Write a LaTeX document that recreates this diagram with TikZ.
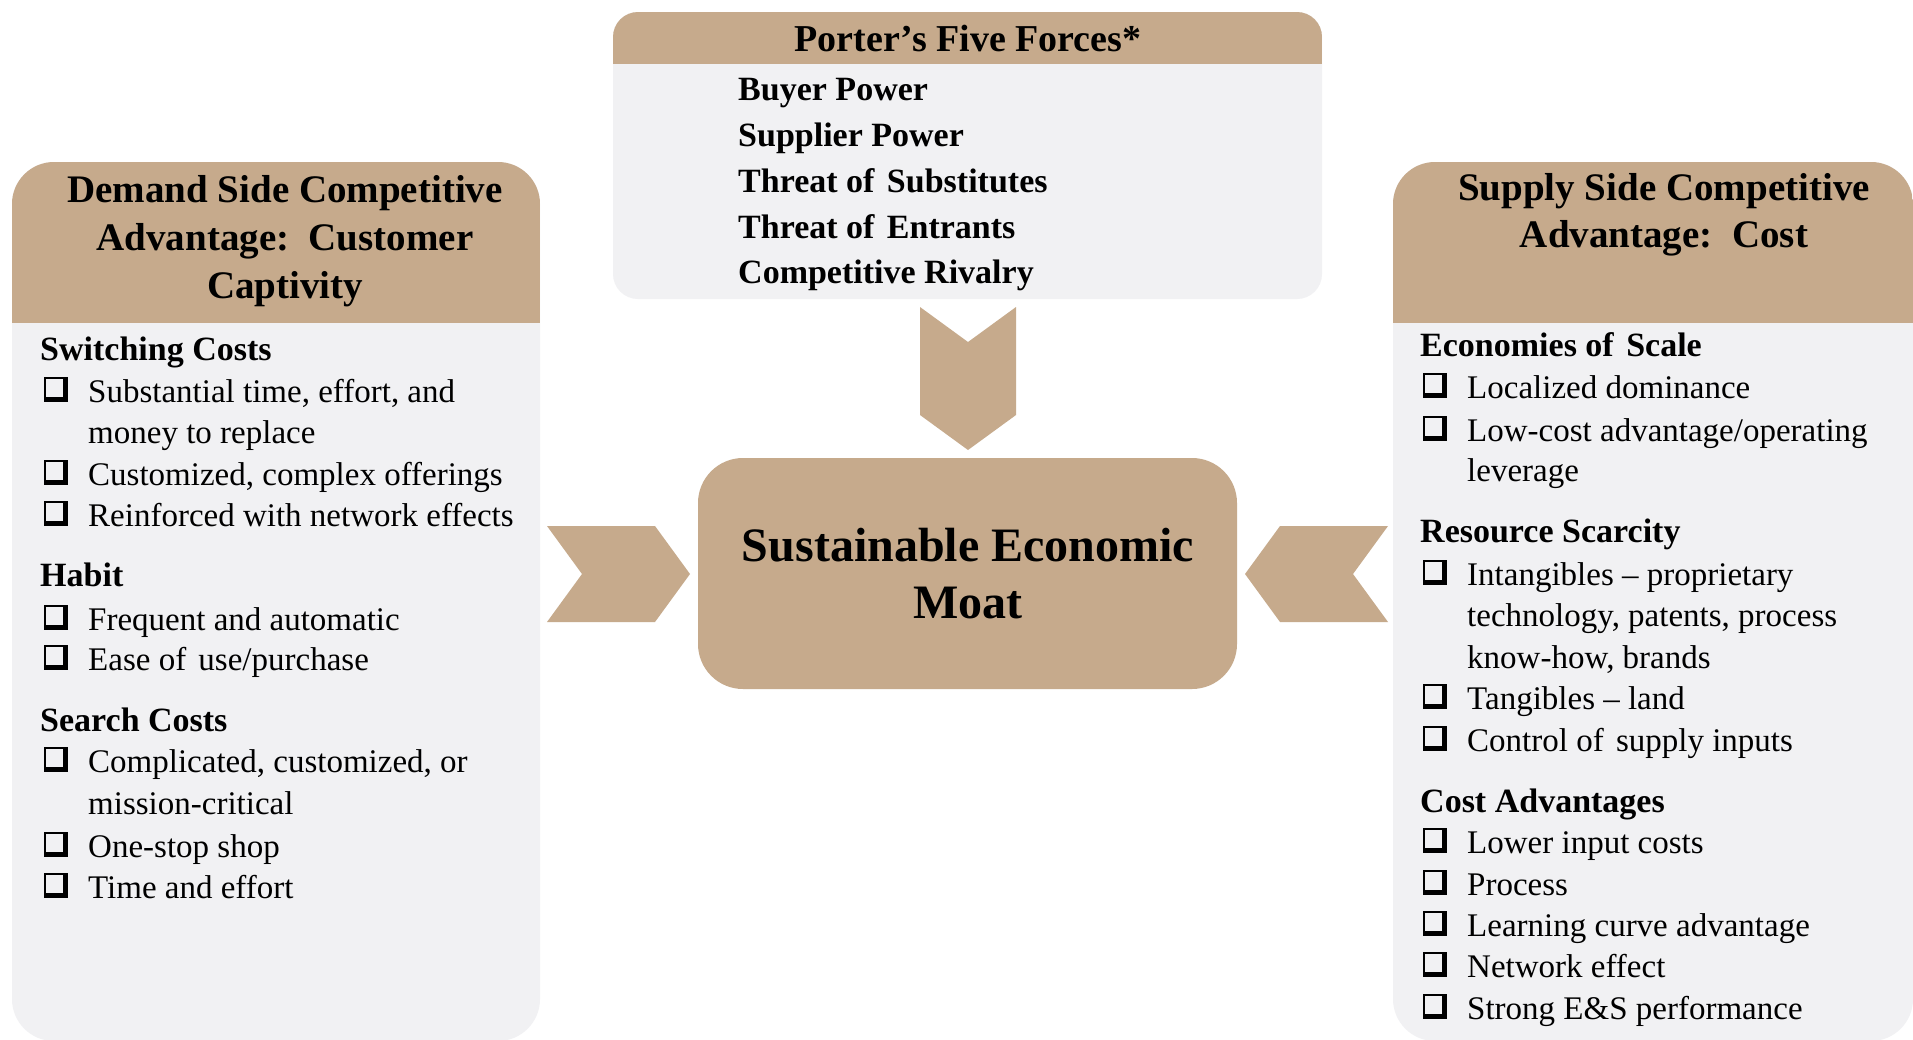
\documentclass[tikz,border=0pt]{standalone}
\usepackage{fontspec}
\setmainfont{Liberation Serif}
\definecolor{tanc}{RGB}{198,170,140}
\definecolor{panelc}{RGB}{241,241,243}
\tikzset{
  bodytxt/.style={anchor=base west, inner sep=0pt, font=\fontsize{33}{40}\selectfont},
  headtxt/.style={anchor=base west, inner sep=0pt, font=\fontsize{34}{40}\selectfont\bfseries},
  forcetxt/.style={anchor=base west, inner sep=0pt, font=\fontsize{34}{40}\selectfont\bfseries},
  titletxt/.style={anchor=base, inner sep=0pt, font=\fontsize{39}{46}\selectfont\bfseries},
  portertxt/.style={anchor=base, inner sep=0pt, font=\fontsize{38}{46}\selectfont\bfseries},
  moattxt/.style={anchor=base, inner sep=0pt, font=\fontsize{48}{56}\selectfont\bfseries},
  chev/.style={fill=tanc, draw=none}
}
\newcommand\chkbox[2]{%
  \fill[black] (#1,#2-25) rectangle (#1+24,#2);
  \fill[panelc] (#1+2,#2-23) rectangle (#1+19,#2-5);}
\newcommand\ckline[5]{% name, boxx, textx, baseline, text
  \chkbox{#2}{#4}
  \node[bodytxt] (#1) at (#3,#4) {#5};}
\begin{document}
\begin{tikzpicture}[x=1pt,y=-1pt]
\useasboundingbox (0,0) rectangle (1913,1039);
\fill[white] (0,0) rectangle (1913,1039);

% ---------- left panel ----------
\fill[panelc, rounded corners=42pt] (12,162) rectangle (540,1041);
\begin{scope}
  \clip[rounded corners=42pt] (12,162) rectangle (540,1041);
  \fill[tanc] (12,162) rectangle (540,323);
\end{scope}
\node[titletxt] (lt1) at (285,202) {Demand Side Competitive};
\node[titletxt] (lt2) at (285,250) {Advantage:\ \ Customer};
\node[titletxt] (lt3) at (285,298) {Captivity};

\node[headtxt] (lh1) at (40,360) {Switching Costs};
\ckline{la1}{44}{88}{402}{Substantial time, effort, and}
\node[bodytxt] (la1b) at (88,443) {money to replace};
\ckline{la2}{44}{88}{485}{Customized, complex offerings}
\ckline{la3}{44}{88}{526}{Reinforced with network effects}
\node[headtxt] (lh2) at (40,586) {Habit};
\ckline{lb1}{44}{88}{630}{Frequent and automatic}
\ckline{lb2}{44}{88}{670}{Ease of\hspace{4pt} use/purchase}
\node[headtxt] (lh3) at (40,731) {Search Costs};
\ckline{lc1}{44}{88}{772}{Complicated, customized, or}
\node[bodytxt] (lc1b) at (88,814) {mission-critical};
\ckline{lc2}{44}{88}{857}{One-stop shop}
\ckline{lc3}{44}{88}{898}{Time and effort}

% ---------- right panel ----------
\fill[panelc, rounded corners=42pt] (1393,162) rectangle (1913,1041);
\begin{scope}
  \clip[rounded corners=42pt] (1393,162) rectangle (1913,1041);
  \fill[tanc] (1393,162) rectangle (1913,323);
\end{scope}
\node[titletxt] (rt1) at (1664,200) {Supply Side Competitive};
\node[titletxt] (rt2) at (1664,247) {Advantage:\ \ Cost};

\node[headtxt] (rh1) at (1420,356) {Economies of\hspace{4pt} Scale};
\ckline{ra1}{1423}{1467}{398}{Localized dominance}
\ckline{ra2}{1423}{1467}{441}{Low-cost advantage/operating}
\node[bodytxt] (ra2b) at (1467,481) {leverage};
\node[headtxt] (rh2) at (1420,542) {Resource Scarcity};
\ckline{rb1}{1423}{1467}{585}{Intangibles – proprietary}
\node[bodytxt] (rb1b) at (1467,626) {technology, patents, process};
\node[bodytxt] (rb1c) at (1467,668) {know-how, brands};
\ckline{rb2}{1423}{1467}{709}{Tangibles – land}
\ckline{rb3}{1423}{1467}{751}{Control of\hspace{4pt} supply inputs}
\node[headtxt] (rh3) at (1420,812) {Cost Advantages};
\ckline{rc1}{1423}{1467}{853}{Lower input costs}
\ckline{rc2}{1423}{1467}{895}{Process}
\ckline{rc3}{1423}{1467}{936}{Learning curve advantage}
\ckline{rc4}{1423}{1467}{977}{Network effect}
\ckline{rc5}{1423}{1467}{1019}{Strong E\&S performance}

% ---------- top box ----------
\fill[panelc, rounded corners=25pt] (613,12) rectangle (1322,299);
\begin{scope}
  \clip[rounded corners=25pt] (613,12) rectangle (1322,299);
  \fill[tanc] (613,12) rectangle (1322,64);
\end{scope}
\node[portertxt] (pt) at (968,51) {Porter’s Five Forces*};
\node[forcetxt] (f1) at (738,100) {Buyer Power};
\node[forcetxt] (f2) at (738,146) {Supplier Power};
\node[forcetxt] (f3) at (738,192) {Threat of\hspace{4pt} Substitutes};
\node[forcetxt] (f4) at (738,238) {Threat of\hspace{4pt} Entrants};
\node[forcetxt] (f5) at (738,283) {Competitive Rivalry};

% ---------- centre ----------
\fill[tanc, rounded corners=45pt] (698,458) rectangle (1237,689);
\node[moattxt] (m1) at (968,561) {Sustainable Economic};
\node[moattxt] (m2) at (968,618) {Moat};

% chevrons
\fill[chev] (920,307) -- (968,342) -- (1016,307) -- (1016,415) -- (968,450) -- (920,415) -- cycle;
\fill[chev] (547,526) -- (655,526) -- (690,574) -- (655,622) -- (547,622) -- (582,574) -- cycle;
\fill[chev] (1388,526) -- (1280,526) -- (1245,574) -- (1280,622) -- (1388,622) -- (1353,574) -- cycle;
\end{tikzpicture}
\end{document}
